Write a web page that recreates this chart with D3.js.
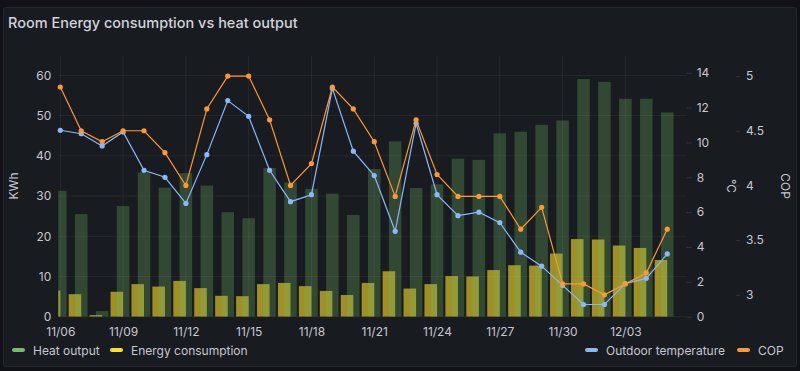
<!DOCTYPE html>
<html>
<head>
<meta charset="utf-8">
<script src="https://cdn.jsdelivr.net/npm/d3@7"></script>
<style>
    html, body { margin: 0; padding: 0; background: #111217; }
    body { width: 800px; height: 371px; overflow: hidden; font-family: Inter, "Open Sans", sans-serif; }
    .tick text { fill: #c7c7d2; font-size: 12px; font-family: Inter, sans-serif; }
    .axis-label { fill: #c7c7d2; font-size: 12px; }
    .legend text { fill: #c7c7d2; font-size: 12px; }
</style>
</head>
<body>
<div id="chart"></div>
<script>
"use strict"

// daily values, 11/06 .. 12/05
const dates = ["2023-11-06", "2023-11-07", "2023-11-08", "2023-11-09", "2023-11-10", "2023-11-11",
    "2023-11-12", "2023-11-13", "2023-11-14", "2023-11-15", "2023-11-16", "2023-11-17",
    "2023-11-18", "2023-11-19", "2023-11-20", "2023-11-21", "2023-11-22", "2023-11-23",
    "2023-11-24", "2023-11-25", "2023-11-26", "2023-11-27", "2023-11-28", "2023-11-29",
    "2023-11-30", "2023-12-01", "2023-12-02", "2023-12-03", "2023-12-04", "2023-12-05"]
const heatOutput = [31.3, 25.5, 1.4, 27.5, 35.9, 32.1, 35.7, 32.6, 26.0, 24.5, 37.0, 33.4, 31.8, 30.6, 25.3,
    36.7, 43.6, 32.0, 32.9, 39.3, 39.0, 45.6, 46.0, 47.7, 48.8, 59.1, 58.4, 54.2, 54.2, 50.8]
const energyConsumption = [6.5, 5.6, 0.4, 6.2, 8.1, 7.5, 8.9, 7.1, 5.2, 5.1, 8.1, 8.4, 7.6, 6.4, 5.4,
    8.4, 11.3, 7.0, 8.1, 10.1, 10.0, 11.6, 12.8, 12.7, 15.7, 19.3, 19.2, 17.7, 17.1, 14.1]
const outdoorTemp = [10.7, 10.5, 9.8, 10.6, 8.4, 8.0, 6.5, 9.3, 12.4, 11.5, 8.4, 6.6, 7.0, 13.1, 9.5,
    8.1, 4.9, 11.1, 7.0, 5.8, 6.0, 5.4, 3.7, 2.9, 1.8, 0.7, 0.7, 1.9, 2.2, 3.6]
const cop = [4.9, 4.5, 4.4, 4.5, 4.5, 4.3, 4.0, 4.7, 5.0, 5.0, 4.6, 4.0, 4.2, 4.9, 4.7,
    4.4, 3.9, 4.6, 4.1, 3.9, 3.9, 3.9, 3.6, 3.8, 3.1, 3.1, 3.0, 3.1, 3.2, 3.6]
const kwhTicks = [0, 10, 20, 30, 40, 50, 60]
const tempTicks = [0, 2, 4, 6, 8, 10, 12, 14]
const copTicks = [3, 3.5, 4, 4.5, 5]

const chart = (function() {

    const W = 800, H = 371
    const frame = { l: 58.3, r: 686.7, t: 55.3, b: 316.7 }
    const colors = {
        heat: "#73bf69", energy: "#fade2a", temp: "#8ab8ff", cop: "#ff9830",
        grid: "rgba(204,204,220,0.08)", text: "#c7c7d2"
    }
    const DAY = 864e5
    const parse = d3.timeParse("%Y-%m-%d")
    const data = dates.map((d, i) => ({
        t: parse(d), heat: heatOutput[i], energy: energyConsumption[i], temp: outdoorTemp[i], cop: cop[i]
    }))

    const t0 = data[0].t.getTime()
    const scales = {
        x: d3.scaleTime()
                .domain([new Date(t0 - 0.096 * DAY), new Date(t0 + 29.93 * DAY)])
                .range([frame.l, frame.r]),
        kwh: d3.scaleLinear().domain([0, 65]).range([frame.b, frame.t]),
        temp: d3.scaleLinear().domain([0, 15]).range([frame.b, frame.t]),
        cop: d3.scaleLinear().domain([2.8, 5.19]).range([frame.b, frame.t])
    }
    const barW = scales.x(new Date(t0 + 0.6 * DAY)) - scales.x(new Date(t0))
    const shift = 0.3 * DAY   // consumption samples sit ~7h before heat output samples

    const svg = d3.select("#chart").append("svg")
                    .attr("width", W)
                    .attr("height", H)

    // panel
    svg.append("rect")
        .attr("x", 3.5).attr("y", 7.5).attr("width", 793).attr("height", 359)
        .attr("rx", 2)
        .attr("fill", "#181b1f")
        .attr("stroke", "#25282d")

    svg.append("text")
        .text("Room Energy consumption vs heat output")
        .attr("x", 8).attr("y", 28)
        .attr("fill", "#d3d3dc")
        .attr("font-size", 14.5)
        .attr("font-weight", 500)

    // grid
    const xTicks = d3.range(0, 30, 3).map(i => data[i].t)
    svg.append("g").selectAll("line")
        .data(xTicks)
        .enter().append("line")
            .attr("x1", d => scales.x(d)).attr("x2", d => scales.x(d))
            .attr("y1", frame.t).attr("y2", frame.b)
            .attr("stroke", colors.grid)
    svg.append("g").selectAll("line")
        .data(kwhTicks)
        .enter().append("line")
            .attr("x1", frame.l).attr("x2", frame.r)
            .attr("y1", d => scales.kwh(d)).attr("y2", d => scales.kwh(d))
            .attr("stroke", colors.grid)

    // bars
    const plot = svg.append("g")
    plot.append("clipPath").attr("id", "clip")
        .append("rect")
            .attr("x", frame.l).attr("y", frame.t)
            .attr("width", frame.r - frame.l).attr("height", frame.b - frame.t)
    const bars = plot.append("g").attr("clip-path", "url(#clip)")

    bars.selectAll(".energy")
        .data(data)
        .enter().append("rect")
            .attr("class", "energy")
            .attr("x", d => scales.x(new Date(d.t.getTime() - shift)) - barW / 2)
            .attr("width", barW)
            .attr("y", d => scales.kwh(d.energy))
            .attr("height", d => frame.b - scales.kwh(d.energy))
            .attr("fill", colors.energy)
            .attr("fill-opacity", 0.6)

    bars.selectAll(".heat")
        .data(data)
        .enter().append("rect")
            .attr("class", "heat")
            .attr("x", d => scales.x(d.t) - barW / 2)
            .attr("width", barW)
            .attr("y", d => scales.kwh(d.heat))
            .attr("height", d => frame.b - scales.kwh(d.heat))
            .attr("fill", colors.heat)
            .attr("fill-opacity", 0.28)

    // lines
    const series = [
        { key: "temp", scale: scales.temp, color: colors.temp },
        { key: "cop", scale: scales.cop, color: colors.cop }
    ]
    series.forEach(s => {
        const line = d3.line().x(d => scales.x(d.t)).y(d => s.scale(d[s.key]))
        plot.append("path")
            .datum(data)
            .attr("d", line)
            .attr("fill", "none")
            .attr("stroke", s.color)
            .attr("stroke-width", 1.2)
        plot.selectAll(".pt-" + s.key)
            .data(data)
            .enter().append("circle")
                .attr("class", "pt-" + s.key)
                .attr("cx", d => scales.x(d.t))
                .attr("cy", d => s.scale(d[s.key]))
                .attr("r", 2.6)
                .attr("fill", s.color)
    })

    // axes
    const strip = g => g.select(".domain").remove()
    svg.append("g")
        .attr("transform", `translate(0, ${ frame.b })`)
        .call(d3.axisBottom(scales.x).tickValues(xTicks).tickFormat(d3.timeFormat("%m/%d")).tickSize(0).tickPadding(11))
        .call(strip)
    svg.append("g")
        .attr("transform", `translate(${ frame.l }, 0)`)
        .call(d3.axisLeft(scales.kwh).tickValues(kwhTicks).tickSize(0).tickPadding(7))
        .call(strip)
    svg.append("g")
        .attr("transform", `translate(${ frame.r }, 0)`)
        .call(d3.axisRight(scales.temp).tickValues(tempTicks).tickSize(5).tickPadding(5))
        .call(strip)
        .call(g => g.selectAll(".tick line").attr("stroke", "rgba(204,204,220,0.15)"))
    svg.append("g")
        .attr("transform", `translate(736, 0)`)
        .call(d3.axisRight(scales.cop).tickValues(copTicks).tickFormat(d3.format("~g")).tickSize(4).tickPadding(6))
        .call(strip)
        .call(g => g.selectAll(".tick line").attr("stroke", "rgba(204,204,220,0.15)"))

    // axis labels
    const mid = (frame.t + frame.b) / 2
    svg.append("text").text("KWh").attr("class", "axis-label")
        .attr("text-anchor", "middle")
        .attr("transform", `translate(18, ${ mid }) rotate(-90)`)
    svg.append("text").text("°C").attr("class", "axis-label")
        .attr("text-anchor", "middle")
        .attr("transform", `translate(727, ${ mid }) rotate(90)`)
    svg.append("text").text("COP").attr("class", "axis-label")
        .attr("text-anchor", "middle")
        .attr("transform", `translate(781, ${ mid }) rotate(90)`)

    // legend
    const legendItems = [
        { name: "Heat output", color: colors.heat, x: 12 },
        { name: "Energy consumption", color: colors.energy, x: 110 },
        { name: "Outdoor temperature", color: colors.temp, x: 585 },
        { name: "COP", color: colors.cop, x: 737 }
    ]
    const legend = svg.append("g").attr("class", "legend")
    legendItems.forEach(it => {
        legend.append("rect")
            .attr("x", it.x).attr("y", 348)
            .attr("width", 13).attr("height", 4).attr("rx", 2)
            .attr("fill", it.color)
        legend.append("text")
            .text(it.name)
            .attr("x", it.x + 21).attr("y", 354.5)
    })
})()
</script>
</body>
</html>
